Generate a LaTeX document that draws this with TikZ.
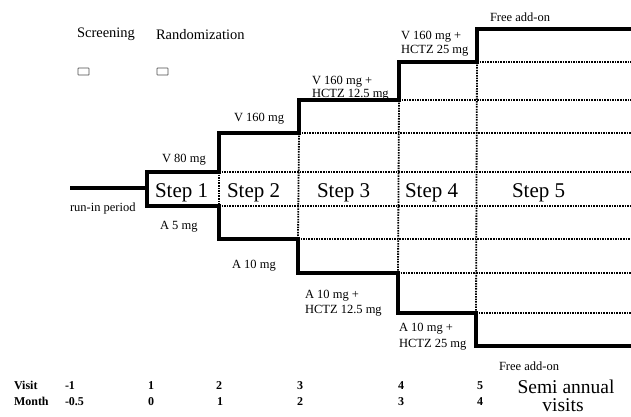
\documentclass[tikz,border=0pt]{standalone}
\usepackage{fontspec}
\setmainfont{Liberation Serif}
\begin{document}
\begin{tikzpicture}[x=1pt,y=-1pt,
  every node/.style={inner sep=0pt,outer sep=0pt,anchor=base west},
  lbl/.style={font=\fontsize{12.5}{14}\selectfont,align=left},
  hdr/.style={font=\fontsize{14.5}{17}\selectfont},
  steplbl/.style={font=\fontsize{21}{24}\selectfont},
  axl/.style={font=\fontsize{12}{14}\selectfont\bfseries},
  thickline/.style={line width=3.3pt,line join=miter,line cap=butt},
  dotline/.style={line width=1.8pt,dash pattern=on 1.5pt off 1.1pt},
  tinybox/.style={draw=black!70,line width=0.7pt,rounded corners=0.5pt}]
\useasboundingbox (0,0) rectangle (631,416);

% coordinates of the staircase
\coordinate (r0) at (70,188);
\coordinate (s0) at (147,188);
% upper
\coordinate (u1) at (147,172);
\coordinate (u2) at (219,172);
\coordinate (u3) at (219,133);
\coordinate (u4) at (299,133);
\coordinate (u5) at (299,100);
\coordinate (u6) at (399,100);
\coordinate (u7) at (399,62);
\coordinate (u8) at (477,62);
\coordinate (u9) at (477,29);
\coordinate (u10) at (631,29);
% lower
\coordinate (l1) at (147,206);
\coordinate (l2) at (219,206);
\coordinate (l3) at (219,239);
\coordinate (l4) at (298,239);
\coordinate (l5) at (298,273);
\coordinate (l6) at (398,273);
\coordinate (l7) at (398,313);
\coordinate (l8) at (476,313);
\coordinate (l9) at (476,346);
\coordinate (l10) at (631,346);

% dotted grid
\draw[dotline] (u2) -- (631,172);
\draw[dotline] (l2) -- (631,206);
\draw[dotline] (u4) -- (631,133);
\draw[dotline] (l4) -- (631,239);
\draw[dotline] (u6) -- (631,100);
\draw[dotline] (l6) -- (631,273);
\draw[dotline] (u8) -- (631,62);
\draw[dotline] (l8) -- (631,313);
\draw[dotline] (u2) -- (l2);
\draw[dotline] (u4) -- (l4);
\draw[dotline] (u6) -- (l6);
\draw[dotline] (u8) -- (l8);

% thick staircase
\draw[thickline] (r0) -- (s0);
\draw[thickline] (s0) -- (u1) -- (u2) -- (u3) -- (u4) -- (u5) -- (u6) -- (u7) -- (u8) -- (u9) -- (u10);
\draw[thickline] (s0) -- (l1) -- (l2) -- (l3) -- (l4) -- (l5) -- (l6) -- (l7) -- (l8) -- (l9) -- (l10);

% headers
\node[hdr] (scr) at (77,37) {Screening};
\node[hdr] (rnd) at (156,39) {Randomization};
\draw[tinybox] (78,68) rectangle (89,75);
\draw[tinybox] (157,68) rectangle (168,75);

% upper labels
\node[lbl] (fa1) at (490,21) {Free add-on};
\node[lbl] (v4a) at (401,39) {V 160 mg +};
\node[lbl] (v4b) at (401,53) {HCTZ 25 mg};
\node[lbl] (v3a) at (312,84) {V 160 mg +};
\node[lbl] (v3b) at (312,97) {HCTZ 12.5 mg};
\node[lbl] (v2) at (234,121) {V 160 mg};
\node[lbl] (v1) at (162,162) {V 80 mg};

% lower labels
\node[lbl] (run) at (70,211) {run-in period};
\node[lbl] (a1) at (160,229) {A 5 mg};
\node[lbl] (a2) at (232,268) {A 10 mg};
\node[lbl] (a3a) at (305,298) {A 10 mg +};
\node[lbl] (a3b) at (305,313) {HCTZ 12.5 mg};
\node[lbl] (a4a) at (399,331) {A 10 mg +};
\node[lbl] (a4b) at (399,347) {HCTZ 25 mg};
\node[lbl] (fa2) at (499,370) {Free add-on};

% step labels
\node[steplbl] (st1) at (155,197) {Step 1};
\node[steplbl] (st2) at (227,197) {Step 2};
\node[steplbl] (st3) at (317,197) {Step 3};
\node[steplbl] (st4) at (405,197) {Step 4};
\node[steplbl] (st5) at (512,197) {Step 5};

% axis rows
\node[axl] (visit) at (14,389) {Visit};
\node[axl] (month) at (14,405) {Month};
\node[axl] (vm1) at (65,389) {-1};
\node[axl] (vv1) at (148,389) {1};
\node[axl] (vv2) at (216,389) {2};
\node[axl] (vv3) at (297,389) {3};
\node[axl] (vv4) at (398,389) {4};
\node[axl] (vv5) at (477,389) {5};
\node[axl] (mm0) at (65,405) {-0.5};
\node[axl] (mm1) at (148,405) {0};
\node[axl] (mm2) at (217,405) {1};
\node[axl] (mm3) at (297,405) {2};
\node[axl] (mm4) at (398,405) {3};
\node[axl] (mm5) at (477,405) {4};
\node[font=\fontsize{19.5}{21}\selectfont,anchor=base] (semi) at (566,393) {Semi annual};
\node[font=\fontsize{19.5}{21}\selectfont,anchor=base] (vis) at (563,411) {visits};
\end{tikzpicture}
\end{document}
